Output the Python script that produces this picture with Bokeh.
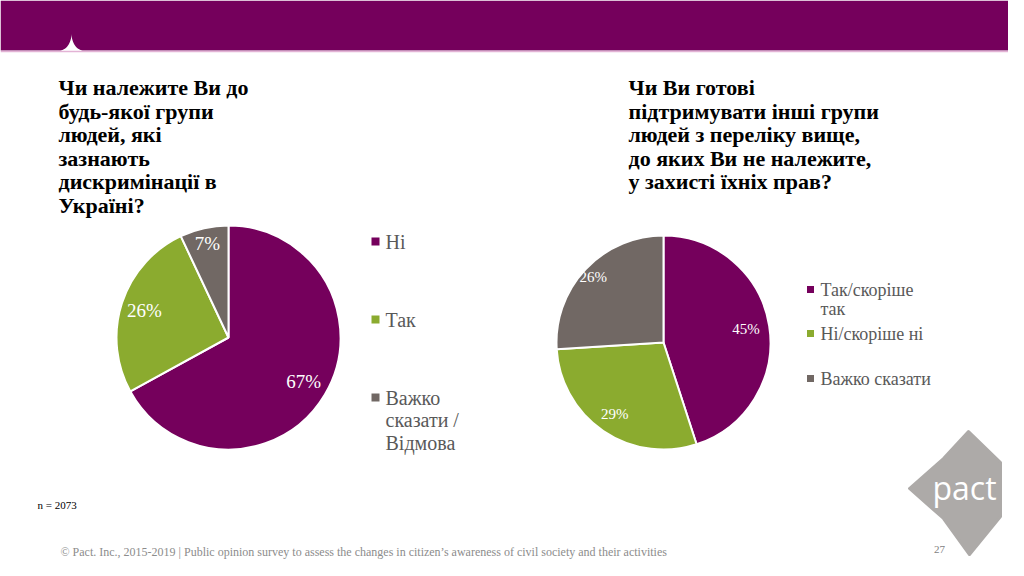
import numpy as np
from bokeh.plotting import figure
from bokeh.models import Range1d, ColumnDataSource
from bokeh.embed import file_html
from bokeh.resources import INLINE
from bokeh.core.properties import value

# ---------------- data ----------------
title1 = ["Чи належите Ви до", "будь-якої групи", "людей, які", "зазнають",
          "дискримінації в", "Україні?"]
title2 = ["Чи Ви готові", "підтримувати інші групи", "людей з переліку вище,",
          "до яких Ви не належите,", "у захисті їхніх прав?"]

cats1 = ["Ні", "Так", "Важко сказати / Відмова"]
legend1_lines = [["Ні"], ["Так"], ["Важко", "сказати /", "Відмова"]]
vals1 = [67, 26, 7]

cats2 = ["Так/скоріше так", "Ні/скоріше ні", "Важко сказати"]
legend2_lines = [["Так/скоріше", "так"], ["Ні/скоріше ні"], ["Важко сказати"]]
vals2 = [45, 29, 26]

colors = ["#75005C", "#8BAB2F", "#716864"]
sample_note = "n = 2073"
footer = ("© Pact. Inc., 2015-2019 | Public opinion survey to assess the changes in "
          "citizen’s awareness of civil society and their activities")
page_no = "27"
logo_text = "pact"

# ---------------- figure ----------------
W, H = 1024, 576
p = figure(width=1008, height=560, x_range=Range1d(0, 1008), y_range=Range1d(16, 576),
           output_backend="svg", toolbar_location=None, min_border=0)
p.axis.visible = False
p.grid.visible = False
p.outline_line_color = None
p.background_fill_color = "white"
p.border_fill_color = "white"


def Y(ys):
    return H - np.asarray(ys, dtype=float)


SERIF = value("Liberation Serif")

# header band with cusp notch
t = np.linspace(0, np.pi / 2, 20)
hx = [0, 1024, 1024]
hy = [0, 0, 50]
rx = list(83 - 12 * np.cos(t[::-1]))
ry = list(33 + 17 * np.sin(t[::-1]))
lx_ = list(59 + 12 * np.cos(t))
ly_ = list(33 + 17 * np.sin(t))
hx += rx + lx_ + [0]
hy += ry + ly_ + [50]
p.patch(hx, list(Y(hy)), fill_color="#75005C", line_color=None)
p.line([0, 1024], list(Y([51, 51])), line_color="#E3B3D5", line_width=1.5)


# titles
def title(lines, x0, y0, dy):
    ys = [y0 + i * dy for i in range(len(lines))]
    p.text(x=[x0] * len(lines), y=list(Y(ys)), text=lines, text_font=SERIF,
           text_font_style="bold", text_font_size="22px", text_color="#000000",
           text_baseline="middle", text_align="left")


title(title1, 58, 87, 23.5)
title(title2, 628, 87, 23.5)


def pie(cx, cy, r, vals, label_fr, fs):
    v = np.array(vals, dtype=float)
    frac = v / v.sum()
    cum = np.concatenate([[0], np.cumsum(frac)])
    start = np.pi / 2 - 2 * np.pi * cum[:-1]
    end = np.pi / 2 - 2 * np.pi * cum[1:]
    src = ColumnDataSource(dict(start=start, end=end, color=colors))
    p.wedge(x=cx, y=float(Y(cy)), radius=r, start_angle="start", end_angle="end",
            direction="clock", fill_color="color", line_color="white", line_width=2,
            source=src)
    mid = (start + end) / 2
    fr = np.array(label_fr)
    lx = cx + r * fr * np.cos(mid)
    ly = float(Y(cy)) + r * fr * np.sin(mid)
    p.text(x=list(lx), y=list(ly), text=[f"{int(a)}%" for a in vals], text_font=SERIF,
           text_font_size=fs, text_color="white", text_align="center",
           text_baseline="middle")


pie(228, 337, 112, vals1, [0.78, 0.79, 0.86], "19px")
pie(663, 342, 107, vals2, [0.78, 0.81, 0.9], "15px")


def legend(lines_list, sq_x, txt_x, y_first, line_dy, fs, sq_size):
    for i, (lines, y0) in enumerate(zip(lines_list, y_first)):
        p.scatter(x=[sq_x], y=list(Y([y0])), marker="square", size=sq_size,
                  fill_color=colors[i], line_color=None)
        ys = [y0 + k * line_dy for k in range(len(lines))]
        p.text(x=[txt_x] * len(lines), y=list(Y(ys)), text=lines, text_font=SERIF,
               text_font_size=fs, text_color="#595959", text_align="left",
               text_baseline="middle")


legend(legend1_lines, 375, 385, [241, 319, 397], 22.5, "20px", 8)
legend(legend2_lines, 810, 820, [289, 333, 378], 19.5, "18px", 7)

# notes
p.text(x=[37], y=list(Y([504])), text=[sample_note], text_font=SERIF,
       text_font_size="11px", text_color="#000000", text_baseline="middle")
p.text(x=[60], y=list(Y([551])), text=[footer], text_font=SERIF,
       text_font_size="12px", text_color="#8C8C8C", text_baseline="middle")

# logo (decorative shape)
lgx = [968, 1000, 1000, 969, 943, 909, 943]
lgy = [431, 462, 516, 554, 518, 488, 458]
p.patch(lgx, list(Y(lgy)), fill_color="#ADAAA8", line_color="#ADAAA8",
        line_width=3, line_join="round")
p.text(x=[964], y=list(Y([487])), text=[logo_text], text_font=value("Open Sans"),
       text_font_style="normal", text_font_size="32px", text_color="white",
       text_align="center", text_baseline="middle")
p.text(x=[939], y=list(Y([549])), text=[page_no], text_font=SERIF,
       text_font_size="11px", text_color="#7F7F7F", text_align="center",
       text_baseline="middle")

open("out.html", "w").write(file_html(p, INLINE))
